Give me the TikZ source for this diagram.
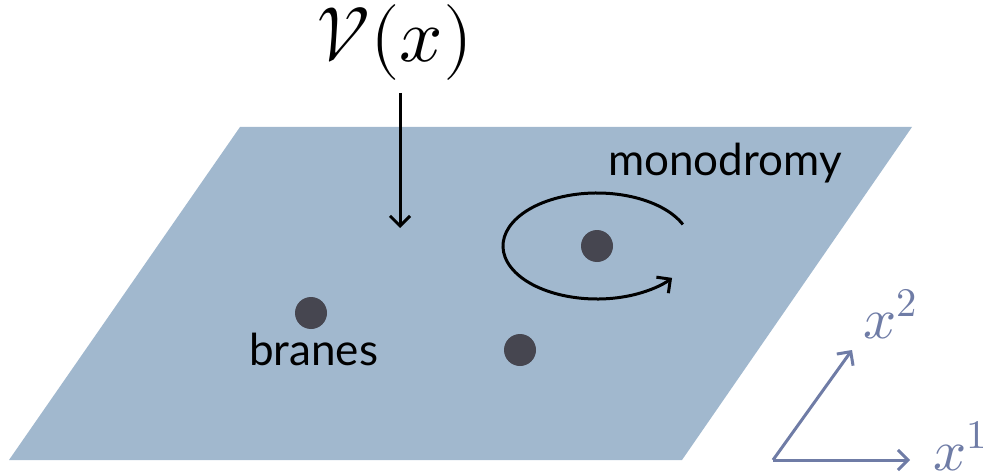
\documentclass[tikz,border=0pt]{standalone}
\usepackage{fontspec}
\usepackage{unicode-math}
\setmathfont{Latin Modern Math}
\setsansfont{Lato}
\usetikzlibrary{arrows.meta}
\definecolor{planec}{HTML}{A1B8CE}
\definecolor{dotc}{HTML}{464650}
\definecolor{axisc}{HTML}{6F7CA6}
\begin{document}
\begin{tikzpicture}[x=1pt,y=1pt,
  brane/.style={circle,fill=dotc,minimum size=32pt,inner sep=0pt},
  lbl/.style={font=\fontsize{44}{48}\selectfont\sffamily,inner sep=0pt},
  mlbl/.style={font=\fontsize{58}{60}\selectfont,inner sep=0pt,text=axisc},
  arr/.style={line width=3pt,-{Straight Barb[length=10pt,width=20pt]}},
  ax/.style={line width=3pt,draw=axisc,-{Straight Barb[length=10pt,width=20pt]}}]
\useasboundingbox (0,0) rectangle (988,475);
\fill[planec] (240,348) -- (912,348) -- (682,15) -- (9,15) -- cycle;
% branes
\node[brane] (b1) at (597,229) {};
\node[brane] (b2) at (311,162) {};
\node[brane] (b3) at (520,125) {};
% labels
\node[lbl,anchor=base west] (mono) at (608,300) {monodromy};
\node[lbl,anchor=base west] (bran) at (249,110) {branes};
\node[font=\fontsize{76}{80}\selectfont,inner sep=0pt,anchor=base west] (V) at (316,413) {$\mathcal{V}(x)$};
% potential arrow
\coordinate (vs) at (400,382);
\coordinate (vt) at (400,247);
\draw[arr] (vs) -- (vt);
% monodromy loop
\draw[arr] (b1) ++(24:94 and 53) arc[start angle=24,end angle=323,x radius=94,y radius=53];
% axes
\coordinate (o) at (773,15);
\coordinate (e1) at (910,15);
\coordinate (e2) at (852,125);
\draw[ax] (o) -- (e1);
\draw[ax] (o) -- (e2);
\node[mlbl,anchor=base west] (x2) at (863,137) {$x^2$};
\node[mlbl,anchor=base west] (x1) at (933,5) {$x^1$};
\end{tikzpicture}
\end{document}
